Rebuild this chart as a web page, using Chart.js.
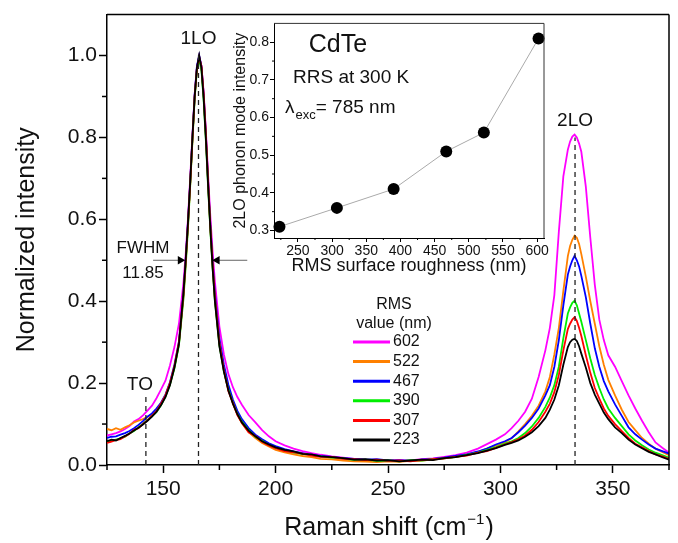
<!DOCTYPE html>
<html>
<head>
<meta charset="utf-8">
<script src="https://cdn.jsdelivr.net/npm/chart.js@4.4.1/dist/chart.umd.min.js"></script>
<style>
  html, body { margin: 0; padding: 0; background: #fff; overflow: hidden; }
  #wrap { position: relative; width: 678px; height: 543px; }
  #main { position: absolute; left: 0; top: 0; }
  #inset { position: absolute; left: 222px; top: 14px; }
</style>
</head>
<body>
<div id="wrap">
  <canvas id="main" width="678" height="543"></canvas>
  <canvas id="inset" width="336" height="270"></canvas>
</div>
<script>
const FONT = "'Liberation Sans', Arial, sans-serif";

// Raman shift (cm-1), shared by every spectrum
const ramanShift = [
  125, 127, 129, 131, 133, 135, 137, 139, 141, 143, 145, 147, 149, 151, 153, 155, 157, 159,
  160, 161, 162, 163, 164, 165, 166, 167, 168, 169, 170, 171, 172, 173,
  175, 177, 179, 181, 183, 185,
  188, 191, 194, 197, 200,
  204, 208, 212, 216, 220,
  225, 230, 235, 240, 245, 250, 255, 260, 265, 270, 275, 280, 285, 290,
  294, 298, 302, 305, 308, 311, 314, 317, 320,
  322, 324, 326, 328, 330,
  331, 332, 333, 334, 335, 336,
  338, 340, 342, 344, 346, 348,
  351, 354, 357, 360, 363, 366, 369, 372, 375
];

// normalized intensity, one array per RMS roughness (nm)
const rms602 = [
  0.072, 0.075, 0.078, 0.082, 0.088, 0.095, 0.106, 0.112, 0.121, 0.133, 0.145, 0.163, 0.184, 0.206, 0.243, 0.288, 0.345, 0.445,
  0.515, 0.600, 0.700, 0.805, 0.905, 0.972, 0.998, 0.975, 0.910, 0.815, 0.705, 0.605, 0.520, 0.448,
  0.338, 0.270, 0.222, 0.190, 0.166, 0.147,
  0.122, 0.104, 0.085, 0.070, 0.058,
  0.048, 0.040, 0.034, 0.029, 0.025,
  0.021, 0.018, 0.015, 0.013, 0.012, 0.010, 0.012, 0.011, 0.014, 0.016, 0.020, 0.024, 0.030, 0.040,
  0.051, 0.062, 0.075, 0.090, 0.108, 0.130, 0.162, 0.215, 0.280,
  0.335, 0.415, 0.570, 0.705, 0.770,
  0.790, 0.802, 0.807, 0.800, 0.785, 0.765,
  0.680, 0.555, 0.440, 0.355, 0.305, 0.268,
  0.240, 0.205, 0.170, 0.138, 0.108, 0.080, 0.055, 0.042, 0.030
];
const rms522 = [
  0.088, 0.085, 0.090, 0.086, 0.092, 0.097, 0.104, 0.108, 0.112, 0.118, 0.124, 0.134, 0.150, 0.170, 0.198, 0.240, 0.296, 0.412,
  0.495, 0.585, 0.685, 0.795, 0.900, 0.970, 0.998, 0.972, 0.900, 0.800, 0.685, 0.578, 0.485, 0.405,
  0.296, 0.232, 0.186, 0.150, 0.123, 0.102,
  0.080, 0.066, 0.054, 0.045, 0.037,
  0.031, 0.026, 0.022, 0.019, 0.015,
  0.014, 0.011, 0.009, 0.008, 0.007, 0.009, 0.008, 0.010, 0.011, 0.013, 0.016, 0.020, 0.026, 0.032,
  0.040, 0.048, 0.056, 0.065, 0.082, 0.100, 0.120, 0.145, 0.180,
  0.215, 0.270, 0.335, 0.425, 0.510,
  0.535, 0.550, 0.560, 0.555, 0.540, 0.515,
  0.460, 0.400, 0.345, 0.290, 0.245, 0.208,
  0.170, 0.135, 0.105, 0.085, 0.066, 0.052, 0.040, 0.032, 0.024
];
const rms467 = [
  0.066, 0.069, 0.070, 0.074, 0.078, 0.083, 0.090, 0.098, 0.107, 0.118, 0.126, 0.138, 0.152, 0.172, 0.202, 0.245, 0.302, 0.418,
  0.500, 0.590, 0.690, 0.800, 0.905, 0.975, 1.000, 0.975, 0.905, 0.805, 0.690, 0.585, 0.495, 0.420,
  0.310, 0.245, 0.196, 0.160, 0.132, 0.112,
  0.090, 0.074, 0.063, 0.053, 0.046,
  0.039, 0.033, 0.029, 0.025, 0.022,
  0.020, 0.017, 0.015, 0.013, 0.014, 0.011, 0.012, 0.010, 0.013, 0.015, 0.018, 0.022, 0.026, 0.033,
  0.040, 0.050, 0.058, 0.066, 0.080, 0.096, 0.115, 0.138, 0.170,
  0.195, 0.240, 0.305, 0.390, 0.465,
  0.485, 0.500, 0.511, 0.500, 0.485, 0.462,
  0.410, 0.345, 0.285, 0.240, 0.205, 0.180,
  0.148, 0.120, 0.092, 0.075, 0.062, 0.050, 0.040, 0.034, 0.028
];
const rms390 = [
  0.056, 0.059, 0.062, 0.065, 0.069, 0.077, 0.083, 0.092, 0.101, 0.110, 0.119, 0.129, 0.146, 0.167, 0.196, 0.236, 0.292, 0.405,
  0.485, 0.575, 0.680, 0.790, 0.895, 0.965, 0.990, 0.965, 0.890, 0.790, 0.675, 0.570, 0.478, 0.400,
  0.292, 0.228, 0.184, 0.152, 0.125, 0.106,
  0.085, 0.069, 0.059, 0.049, 0.042,
  0.036, 0.030, 0.027, 0.024, 0.021,
  0.018, 0.016, 0.012, 0.013, 0.010, 0.011, 0.009, 0.012, 0.011, 0.014, 0.016, 0.019, 0.025, 0.030,
  0.037, 0.044, 0.052, 0.058, 0.066, 0.078, 0.094, 0.115, 0.142,
  0.165, 0.195, 0.240, 0.310, 0.370,
  0.385, 0.396, 0.401, 0.390, 0.370, 0.350,
  0.305, 0.260, 0.220, 0.188, 0.160, 0.138,
  0.115, 0.095, 0.075, 0.060, 0.048, 0.038, 0.030, 0.024, 0.018
];
const rms307 = [
  0.054, 0.057, 0.061, 0.063, 0.070, 0.076, 0.086, 0.090, 0.100, 0.109, 0.120, 0.131, 0.150, 0.170, 0.200, 0.242, 0.300, 0.415,
  0.495, 0.585, 0.685, 0.795, 0.900, 0.968, 0.995, 0.975, 0.905, 0.805, 0.690, 0.580, 0.490, 0.410,
  0.298, 0.232, 0.180, 0.152, 0.122, 0.103,
  0.080, 0.071, 0.057, 0.048, 0.041,
  0.034, 0.031, 0.028, 0.023, 0.020,
  0.020, 0.015, 0.014, 0.012, 0.013, 0.010, 0.011, 0.009, 0.012, 0.014, 0.016, 0.020, 0.023, 0.030,
  0.034, 0.042, 0.050, 0.056, 0.063, 0.072, 0.086, 0.105, 0.130,
  0.150, 0.178, 0.220, 0.280, 0.332,
  0.345, 0.355, 0.361, 0.352, 0.335, 0.315,
  0.268, 0.225, 0.188, 0.162, 0.138, 0.120,
  0.100, 0.083, 0.066, 0.052, 0.043, 0.034, 0.026, 0.021, 0.015
];
const rms223 = [
  0.058, 0.062, 0.060, 0.066, 0.071, 0.077, 0.084, 0.091, 0.099, 0.108, 0.118, 0.130, 0.146, 0.166, 0.195, 0.238, 0.295, 0.420,
  0.500, 0.590, 0.690, 0.800, 0.900, 0.970, 1.000, 0.970, 0.895, 0.795, 0.680, 0.575, 0.480, 0.400,
  0.290, 0.228, 0.182, 0.150, 0.124, 0.104,
  0.084, 0.070, 0.058, 0.050, 0.043,
  0.037, 0.033, 0.027, 0.026, 0.021,
  0.019, 0.017, 0.013, 0.014, 0.011, 0.012, 0.009, 0.011, 0.013, 0.012, 0.017, 0.019, 0.024, 0.029,
  0.035, 0.041, 0.049, 0.054, 0.060, 0.069, 0.080, 0.095, 0.115,
  0.135, 0.160, 0.195, 0.245, 0.288,
  0.300, 0.306, 0.308, 0.303, 0.290, 0.272,
  0.238, 0.200, 0.172, 0.150, 0.128, 0.112,
  0.092, 0.078, 0.062, 0.050, 0.041, 0.032, 0.026, 0.019, 0.013
];

const legendLabels = ['602', '522', '467', '390', '307', '223'];
const legendColors = ['#ff00ff', '#ff8000', '#0000ff', '#00ee00', '#ff0000', '#000000'];

// phonon mode markers: TO, 1LO, 2LO
const modeNames = ['TO', '1LO', '2LO'];
const modeShift = [142.3, 165.7, 333.2];
const modeTop = [0.17, 1.0, 0.8];
const modeLabelY = [0.195, 1.04, 0.84];

// FWHM arrows at half maximum of 1LO
const fwhmLevel = 0.5;
const fwhmLeftArrow = [145.5, 157.6];
const fwhmRightArrow = [187.4, 174.0];

// main axes ticks
const xTicks = [150, 200, 250, 300, 350];
const xMinorTicks = [125, 175, 225, 275, 325, 375];
const yTicks = [0, 0.2, 0.4, 0.6, 0.8, 1.0];
const yMinorTicks = [0.1, 0.3, 0.5, 0.7, 0.9];

// inset: 2LO intensity vs RMS roughness
const rmsRoughness = [223, 307, 390, 467, 522, 602];
const lo2Intensity = [0.31, 0.36, 0.41, 0.51, 0.56, 0.81];
const insetXTicks = [250, 300, 350, 400, 450, 500, 550, 600];
const insetXMinor = [225, 275, 325, 375, 425, 475, 525, 575];
const insetYTicks = [0.3, 0.4, 0.5, 0.6, 0.7, 0.8];
const insetYMinor = [0.35, 0.45, 0.55, 0.65, 0.75];

const seriesByLabel = { '602': rms602, '522': rms522, '467': rms467, '390': rms390, '307': rms307, '223': rms223 };

function text(ctx, s, x, y, size, align, base) {
  ctx.font = size + 'px ' + FONT;
  ctx.textAlign = align || 'center';
  ctx.textBaseline = base || 'middle';
  ctx.fillText(s, x, y);
}

function seg(ctx, x1, y1, x2, y2) {
  ctx.beginPath();
  ctx.moveTo(x1, y1);
  ctx.lineTo(x2, y2);
  ctx.stroke();
}

const markerSets = modeShift.map((s, i) => ({
  data: [{ x: s, y: 0 }, { x: s, y: modeTop[i] }],
  borderColor: '#222',
  borderWidth: 1.3,
  borderDash: [5, 4],
  pointRadius: 0
}));

const arrowSets = [fwhmLeftArrow, fwhmRightArrow].map((a, i) => ({
  data: a.map(v => ({ x: v, y: fwhmLevel })),
  borderColor: '#666',
  borderWidth: 1,
  pointRadius: [0, 5],
  pointStyle: 'triangle',
  pointRotation: i === 0 ? 90 : -90,
  pointBackgroundColor: '#000',
  pointBorderWidth: 0
}));

// black drawn last => first in list
const spectrumSets = legendLabels.slice().reverse().map(lbl => {
  const i = legendLabels.indexOf(lbl);
  return {
    label: lbl,
    data: ramanShift.map((x, k) => ({ x: x, y: seriesByLabel[lbl][k] })),
    borderColor: legendColors[i],
    borderWidth: 1.8,
    pointRadius: 0,
    tension: 0
  };
});

const mainDecor = {
  id: 'mainDecor',
  afterDraw(chart) {
    const { ctx, chartArea: a, scales: { x, y } } = chart;
    ctx.save();
    ctx.strokeStyle = '#000';
    ctx.lineWidth = 1.5;
    seg(ctx, a.left, a.top, a.right, a.top);
    seg(ctx, a.right, a.top, a.right, a.bottom);
    xMinorTicks.forEach(v => {
      const px = x.getPixelForValue(v);
      seg(ctx, px, a.bottom, px, a.bottom + 5);
    });
    yMinorTicks.forEach(v => {
      const py = y.getPixelForValue(v);
      seg(ctx, a.left - 5, py, a.left, py);
    });

    ctx.fillStyle = '#111';
    modeNames.forEach((n, i) => {
      text(ctx, n, x.getPixelForValue(modeShift[i]) - (i === 0 ? 6 : 0), y.getPixelForValue(modeLabelY[i]), 19);
    });
    text(ctx, 'FWHM', x.getPixelForValue(141), y.getPixelForValue(0.528), 17);
    text(ctx, '11.85', x.getPixelForValue(141), y.getPixelForValue(0.467), 17);

    // legend
    text(ctx, 'RMS', 394, 305, 16);
    text(ctx, 'value (nm)', 394, 324, 16);
    legendLabels.forEach((l, i) => {
      const yy = 342 + i * 19.6;
      ctx.strokeStyle = legendColors[i];
      ctx.lineWidth = 3;
      seg(ctx, 353, yy, 390, yy);
      ctx.fillStyle = '#111';
      text(ctx, l, 393, yy, 16, 'left');
    });

    // x axis title with superscript
    ctx.fillStyle = '#111';
    ctx.font = '25px ' + FONT;
    const p1 = 'Raman shift (cm', p3 = ')';
    const w1 = ctx.measureText(p1).width, w3 = ctx.measureText(p3).width;
    ctx.font = '15px ' + FONT;
    const w2 = ctx.measureText('\u22121').width;
    let sx = (a.left + a.right) / 2 - (w1 + w2 + w3) / 2;
    text(ctx, p1, sx, 535, 25, 'left', 'alphabetic');
    text(ctx, '\u22121', sx + w1 + 1, 524, 15, 'left', 'alphabetic');
    text(ctx, p3, sx + w1 + w2 + 2, 535, 25, 'left', 'alphabetic');
    ctx.restore();
  }
};

new Chart(document.getElementById('main'), {
  type: 'line',
  data: { datasets: markerSets.concat(arrowSets, spectrumSets) },
  options: {
    responsive: false,
    animation: false,
    devicePixelRatio: 1,
    layout: { padding: { left: 0, top: 13, right: 9, bottom: 0 } },
    plugins: { legend: { display: false }, tooltip: { enabled: false } },
    scales: {
      x: {
        type: 'linear',
        min: 125,
        max: 375,
        afterBuildTicks: s => { s.ticks = xTicks.map(v => ({ value: v })); },
        afterFit: s => { s.height = 78; },
        grid: { drawOnChartArea: false, tickLength: 8, tickWidth: 1.5, tickColor: '#000' },
        border: { color: '#000', width: 1.5 },
        ticks: { autoSkip: false, maxRotation: 0, padding: 4, color: '#111', font: { family: FONT, size: 21 } }
      },
      y: {
        min: 0,
        max: 1.1,
        afterBuildTicks: s => { s.ticks = yTicks.map(v => ({ value: v })); },
        afterFit: s => { s.width = 107; },
        grid: { drawOnChartArea: false, tickLength: 8, tickWidth: 1.5, tickColor: '#000' },
        border: { color: '#000', width: 1.5 },
        ticks: { autoSkip: false, padding: 2, color: '#111', font: { family: FONT, size: 21 }, callback: v => v.toFixed(1) },
        title: { display: true, text: 'Normalized intensity', color: '#111', font: { family: FONT, size: 25 }, padding: { top: 12, bottom: 0 } }
      }
    }
  },
  plugins: [mainDecor]
});

const insetDecor = {
  id: 'insetDecor',
  afterDraw(chart) {
    const { ctx, chartArea: a, scales: { x, y } } = chart;
    ctx.save();
    ctx.strokeStyle = '#333';
    ctx.lineWidth = 1;
    seg(ctx, a.left, a.top, a.right, a.top);
    seg(ctx, a.right, a.top, a.right, a.bottom);
    ctx.strokeStyle = '#000';
    insetXMinor.forEach(v => {
      const px = x.getPixelForValue(v);
      seg(ctx, px, a.bottom, px, a.bottom + 2);
    });
    insetYMinor.forEach(v => {
      const py = y.getPixelForValue(v);
      seg(ctx, a.left - 2, py, a.left, py);
    });
    ctx.fillStyle = '#111';
    text(ctx, 'CdTe', a.left + 64, a.top + 22, 25);
    text(ctx, 'RRS at 300 K', a.left + 19, a.top + 54, 19, 'left');
    const bx = a.left + 11, by = a.top + 90;
    text(ctx, '\u03bb', bx, by, 19, 'left', 'alphabetic');
    ctx.font = '19px ' + FONT;
    const wl = ctx.measureText('\u03bb').width;
    text(ctx, 'exc', bx + wl + 1, by + 6, 13, 'left', 'alphabetic');
    ctx.font = '13px ' + FONT;
    const we = ctx.measureText('exc').width;
    text(ctx, '= 785 nm', bx + wl + we + 1, by, 19, 'left', 'alphabetic');
    ctx.restore();
  }
};

new Chart(document.getElementById('inset'), {
  type: 'line',
  data: {
    datasets: [{
      data: rmsRoughness.map((r, i) => ({ x: r, y: lo2Intensity[i] })),
      borderColor: '#aaa',
      borderWidth: 1,
      pointRadius: 6,
      pointBackgroundColor: '#000',
      pointBorderWidth: 0,
      clip: false
    }]
  },
  options: {
    responsive: false,
    animation: false,
    devicePixelRatio: 1,
    layout: { padding: { left: 0, top: 9, right: 14, bottom: 0 } },
    plugins: { legend: { display: false }, tooltip: { enabled: false } },
    scales: {
      x: {
        type: 'linear',
        min: 215,
        max: 610,
        afterBuildTicks: s => { s.ticks = insetXTicks.map(v => ({ value: v })); },
        afterFit: s => { s.height = 46; },
        grid: { drawOnChartArea: false, tickLength: 4, tickWidth: 1, tickColor: '#000' },
        border: { color: '#000', width: 1 },
        ticks: { autoSkip: false, maxRotation: 0, padding: 1, color: '#111', font: { family: FONT, size: 14 } },
        title: { display: true, text: 'RMS surface roughness (nm)', color: '#111', font: { family: FONT, size: 18 }, padding: { top: 0, bottom: 7 } }
      },
      y: {
        min: 0.28,
        max: 0.85,
        afterBuildTicks: s => { s.ticks = insetYTicks.map(v => ({ value: v })); },
        afterFit: s => { s.width = 52; },
        grid: { drawOnChartArea: false, tickLength: 4, tickWidth: 1, tickColor: '#000' },
        border: { color: '#000', width: 1 },
        ticks: { autoSkip: false, padding: 1, color: '#111', font: { family: FONT, size: 14 }, callback: v => v.toFixed(1) },
        title: { display: true, text: '2LO phonon mode intensity', color: '#111', font: { family: FONT, size: 16 }, padding: { top: 9, bottom: 0 } }
      }
    }
  },
  plugins: [insetDecor]
});
</script>
</body>
</html>
